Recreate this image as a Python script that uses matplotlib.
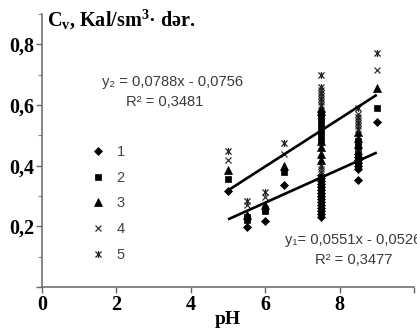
import matplotlib
matplotlib.use("Agg")
import matplotlib.pyplot as plt
from matplotlib.path import Path
from matplotlib.lines import Line2D
import numpy as np

plt.rcParams["mathtext.fontset"] = "custom"
plt.rcParams["mathtext.bf"] = "Liberation Serif:bold"
plt.rcParams["mathtext.rm"] = "Liberation Serif:bold"

# --- data: specific heat C_v vs pH for five sample groups ---
ph_1 = [5.0, 5.5, 6.0, 6.5,
        7.5, 7.5, 7.5, 7.5, 7.5, 7.5, 7.5, 7.5, 7.5, 7.5, 7.5, 7.5, 7.5, 7.5, 7.5,
        8.5, 8.5, 8.5, 8.5, 8.5, 8.5, 8.5, 9.0]
cv_1 = [0.315, 0.197, 0.219, 0.337,
        0.232, 0.24, 0.25, 0.26, 0.27, 0.28, 0.29, 0.30, 0.31, 0.32, 0.33, 0.34, 0.35, 0.36, 0.37,
        0.354, 0.39, 0.40, 0.41, 0.42, 0.43, 0.44, 0.543]

ph_2 = [5.0, 5.5, 5.5, 6.0, 6.0, 6.5,
        7.5, 7.5, 7.5, 7.5, 7.5, 7.5, 7.5, 7.5,
        8.5, 8.5, 8.5, 8.5, 8.5, 9.0]
cv_2 = [0.356, 0.221, 0.23, 0.249, 0.256, 0.378,
        0.48, 0.50, 0.52, 0.54, 0.56, 0.57, 0.30, 0.33,
        0.40, 0.42, 0.44, 0.46, 0.48, 0.591]

ph_3 = [5.0, 5.5, 6.0, 6.5,
        7.5, 7.5, 7.5, 7.5, 7.5, 7.5,
        8.5, 8.5, 8.5, 9.0]
cv_3 = [0.387, 0.238, 0.271, 0.40,
        0.42, 0.44, 0.46, 0.48, 0.58, 0.59,
        0.47, 0.49, 0.51, 0.657]

ph_4 = [5.0, 5.5, 6.0, 6.5,
        7.5, 7.5, 7.5, 7.5, 7.5,
        8.5, 8.5, 8.5, 9.0]
cv_4 = [0.42, 0.271, 0.298, 0.44,
        0.38, 0.39, 0.61, 0.63, 0.65,
        0.53, 0.55, 0.57, 0.715]

ph_5 = [5.0, 5.5, 6.0, 6.5,
        7.5, 7.5, 7.5, 7.5, 7.5, 7.5,
        8.5, 8.5, 8.5, 8.5, 9.0]
cv_5 = [0.447, 0.282, 0.312, 0.476,
        0.40, 0.60, 0.62, 0.64, 0.66, 0.70,
        0.52, 0.54, 0.56, 0.59, 0.773]

series_labels = ["1", "2", "3", "4", "5"]

# linear trends (slope, intercept) and fit range
fit_1 = (0.0551, -0.0526)
fit_2 = (0.0788, -0.0756)
fit_range = [5.0, 9.0]

x_ticks = [0, 2, 4, 6, 8, 10]
x_ticklabels = ["0", "2", "4", "6", "8", ""]
y_ticks = [0.0, 0.2, 0.4, 0.6, 0.8]
y_ticklabels = ["", "0,2", "0,4", "0,6", "0,8"]
y_minor = [0.1, 0.3, 0.5, 0.7, 0.9]

# Excel-style star marker: an x with a vertical bar
star = Path([(-1, -1), (1, 1), (-1, 1), (1, -1), (0, -1.15), (0, 1.15)],
            [Path.MOVETO, Path.LINETO, Path.MOVETO, Path.LINETO, Path.MOVETO, Path.LINETO])

styles = [
    dict(marker="D", ms=4.4, mfc="black", mec="black", mew=0.5),
    dict(marker="s", ms=4.8, mfc="black", mec="black", mew=0.5),
    dict(marker="^", ms=5.4, mfc="black", mec="black", mew=0.5),
    dict(marker="x", ms=4.8, mfc="none", mec="#333333", mew=0.9),
    dict(marker=star, ms=5.0, mfc="none", mec="#222222", mew=0.9),
]

fig = plt.figure(figsize=(4.17, 3.32), dpi=100)
W, H = 417, 332
ax = fig.add_axes([42 / W, 1 - 287 / H, (414 - 42) / W, (287 - 14) / H])

for xs, ys, st in zip([ph_1, ph_2, ph_3, ph_4, ph_5],
                      [cv_1, cv_2, cv_3, cv_4, cv_5], styles):
    ax.plot(xs, ys, linestyle="none", **st)

xf = np.array(fit_range)
for slope, icpt in (fit_1, fit_2):
    ax.plot(xf, slope * xf + icpt, color="black", lw=1.9, solid_capstyle="butt")

ax.set_xlim(0, 10)
ax.set_ylim(0, 0.9)
ax.set_xticks(x_ticks)
ax.set_xticklabels(x_ticklabels)
ax.set_yticks(y_ticks)
ax.set_yticklabels(y_ticklabels)
ax.set_yticks(y_minor, minor=True)

for side in ("top", "right"):
    ax.spines[side].set_visible(False)
for side in ("left", "bottom"):
    ax.spines[side].set_color("#666666")
    ax.spines[side].set_linewidth(1.1)

serif_bold = dict(family=["Liberation Serif", "DejaVu Serif"], weight="bold")
ax.tick_params(axis="both", which="major", direction="out", length=4, width=1.0,
               color="#666666", labelsize=14.5, pad=1.5)
ax.tick_params(axis="y", which="minor", direction="out", length=3, width=0.8, color="#888888")
for lab in ax.get_xticklabels() + ax.get_yticklabels():
    lab.set_fontfamily(["Liberation Serif", "DejaVu Serif"])
    lab.set_fontweight("bold")

ax.set_xlabel("pH", fontsize=14, va="baseline", **serif_bold)
ax.xaxis.set_label_coords(0.5, (287 - 324) / 273)

fig.text(47 / W, 1 - 26 / H, r"$\mathbf{C_v}$, Kal/sm$^\mathbf{3}$· dər.",
         fontsize=14.5, ha="left", va="baseline", **serif_bold)

sans = ["Liberation Sans", "DejaVu Sans"]
eq_color = "#3a3a3a"
eq_size = 10.6
fig.text(102 / W, 1 - 82 / H, "y₂ = 0,0788x - 0,0756", family=sans, fontsize=eq_size,
         color=eq_color, ha="left", va="center")
fig.text(165 / W, 1 - 102 / H, "R² = 0,3481", family=sans, fontsize=eq_size,
         color=eq_color, ha="center", va="center")
fig.text(285 / W, 1 - 240 / H, "y₁= 0,0551x - 0,0526", family=sans, fontsize=eq_size,
         color=eq_color, ha="left", va="center")
fig.text(354 / W, 1 - 260 / H, "R² = 0,3477", family=sans, fontsize=eq_size,
         color=eq_color, ha="center", va="center")

handles = [Line2D([], [], linestyle="none", **st) for st in styles]
leg = ax.legend(handles, series_labels, loc="upper left",
                bbox_to_anchor=(91 / W, 1 - 145 / H), bbox_transform=fig.transFigure,
                frameon=False, handlelength=1.0, handletextpad=0.75,
                labelspacing=0.8, borderpad=0, borderaxespad=0,
                prop=dict(family=sans, size=10.5))
for t in leg.get_texts():
    t.set_color("#444444")

fig.savefig("out.png", dpi=100)
